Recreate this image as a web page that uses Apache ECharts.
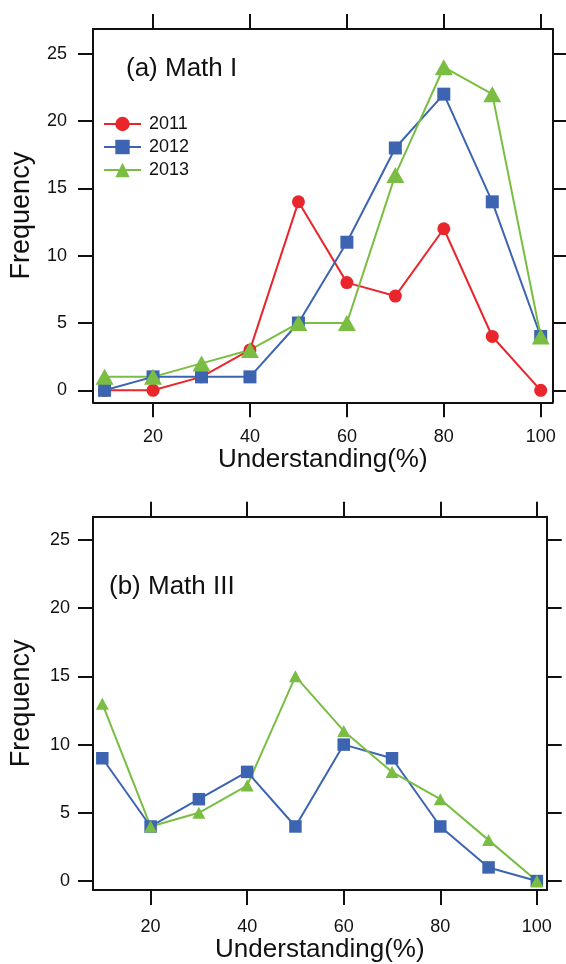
<!DOCTYPE html>
<html>
<head>
<meta charset="utf-8">
<script src="https://cdn.jsdelivr.net/npm/echarts@6/dist/echarts.min.js"></script>
<style>
html,body{margin:0;padding:0;background:#fff;}
#c{width:566px;height:964px;}
</style>
</head>
<body>
<div id="c"></div>
<script>
// Understanding (%) bins
const understanding = [10, 20, 30, 40, 50, 60, 70, 80, 90, 100];
const xTicks = [20, 40, 60, 80, 100];
const yTicks = [0, 5, 10, 15, 20, 25];
// (a) Math I
const mathI_2011 = [0, 0, 1, 3, 14, 8, 7, 12, 4, 0];
const mathI_2012 = [0, 1, 1, 1, 5, 11, 18, 22, 14, 4];
const mathI_2013 = [1, 1, 2, 3, 5, 5, 16, 24, 22, 4];
// (b) Math III
const mathIII_2012 = [9, 4, 6, 8, 4, 10, 9, 4, 1, 0];
const mathIII_2013 = [13, 4, 5, 7, 15, 11, 8, 6, 3, 0];

const panelTitles = ['(a) Math I', '(b) Math III'];
const yearNames = ['2011', '2012', '2013'];
const xName = 'Understanding(%)';
const yName = 'Frequency';

const RED = '#e8262c', BLUE = '#3c64b1', GREEN = '#79be42';
const FONT = "'Liberation Sans', Arial, Helvetica, sans-serif";

function pairs(xs, ys) { return xs.map((x, i) => [x, ys[i]]); }

function xAxes(gi, min, max, nameGap, labelMargin) {
  const common = {
    type: 'value', gridIndex: gi, min: min, max: max,
    splitLine: { show: false },
    axisLine: { show: true, onZero: false, lineStyle: { color: '#111', width: 2 } },
    axisTick: { show: true, length: 15, customValues: xTicks, lineStyle: { color: '#111', width: 2 } }
  };
  return [
    Object.assign({}, common, {
      position: 'bottom',
      axisLabel: { show: true, customValues: xTicks, margin: labelMargin, fontSize: 18, color: '#111', fontFamily: FONT },
      name: xName, nameLocation: 'middle', nameGap: nameGap,
      nameTextStyle: { fontSize: 26, color: '#111', fontFamily: FONT }
    }),
    Object.assign({}, common, { position: 'top', axisLabel: { show: false } })
  ];
}
function yAxes(gi, min, max, labelMargin) {
  const common = {
    type: 'value', gridIndex: gi, min: min, max: max,
    splitLine: { show: false },
    axisLine: { show: true, onZero: false, lineStyle: { color: '#111', width: 2 } },
    axisTick: { show: true, length: 15, customValues: yTicks, lineStyle: { color: '#111', width: 2 } }
  };
  return [
    Object.assign({}, common, {
      position: 'left',
      axisLabel: { show: true, customValues: yTicks, margin: labelMargin, fontSize: 18, color: '#111', fontFamily: FONT },
      name: yName, nameLocation: 'middle', nameGap: 58,
      nameTextStyle: { fontSize: 27, color: '#111', fontFamily: FONT }
    }),
    Object.assign({}, common, { position: 'right', axisLabel: { show: false } })
  ];
}

function lineSeries(name, color, symbol, size, xi, yi, ys) {
  return {
    type: 'line', name: name, xAxisIndex: xi, yAxisIndex: yi,
    data: pairs(understanding, ys),
    symbol: symbol, symbolSize: size, showSymbol: true,
    lineStyle: { color: color, width: 2 },
    itemStyle: { color: color, borderWidth: 0 },
    animation: false, z: 3
  };
}

const chart = echarts.init(document.getElementById('c'), null, { renderer: 'canvas' });
chart.setOption({
  animation: false,
  backgroundColor: '#fff',
  textStyle: { fontFamily: FONT },
  title: [
    { text: panelTitles[0], left: 126, top: 56, padding: 0, textStyle: { fontSize: 26, fontWeight: 'normal', color: '#111', fontFamily: FONT } },
    { text: panelTitles[1], left: 109, top: 574, padding: 0, textStyle: { fontSize: 26, fontWeight: 'normal', color: '#111', fontFamily: FONT } }
  ],
  legend: {
    data: yearNames, left: 103, top: 115, orient: 'vertical',
    itemWidth: 37, itemHeight: 18, itemGap: 5, padding: 0,
    textStyle: { fontSize: 18, color: '#111', fontFamily: FONT, padding: [0, 0, 0, 3] }
  },
  grid: [
    { left: 93, top: 29, width: 459.7, height: 373.3, containLabel: false },
    { left: 89.3, top: 516.7, width: 457.4, height: 375.6, containLabel: false }
  ],
  xAxis: xAxes(0, 7.61, 102.47, 45, 26).concat(xAxes(1, 8.07, 102.04, 47, 28)),
  yAxis: yAxes(0, -0.89, 26.84, 26).concat(yAxes(1, -0.655, 26.7, 23)),
  series: [
    lineSeries(yearNames[0], RED, 'circle', 13, 0, 0, mathI_2011),
    lineSeries(yearNames[1], BLUE, 'rect', 13, 0, 0, mathI_2012),
    lineSeries(yearNames[2], GREEN, 'triangle', [18, 16], 0, 0, mathI_2013),
    lineSeries(yearNames[1], BLUE, 'rect', 12.5, 2, 2, mathIII_2012),
    lineSeries(yearNames[2], GREEN, 'triangle', [13, 12], 2, 2, mathIII_2013)
  ]
});
</script>
</body>
</html>
